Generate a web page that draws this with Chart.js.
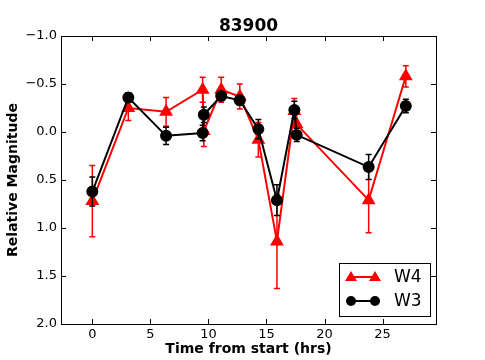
<!DOCTYPE html>
<html>
<head>
<meta charset="utf-8">
<script src="https://cdn.jsdelivr.net/npm/chart.js@4/dist/chart.umd.min.js"></script>
<style>
  html, body { margin: 0; padding: 0; background: #fff; }
  #wrap { width: 485px; height: 360px; }
</style>
</head>
<body>
<div id="wrap"><canvas id="c" width="485" height="360"></canvas></div>
<script>
const chartTitle = "83900";
const xLabel = "Time from start (hrs)";
const yLabel = "Relative Magnitude";

const xTicks = [0, 5, 10, 15, 20, 25];
const yTicks = [-1.0, -0.5, 0.0, 0.5, 1.0, 1.5, 2.0];

const w4Time = [0, 3.1, 6.35, 9.5, 9.6, 11.1, 12.7, 14.3, 15.9, 17.4, 17.6, 23.8, 27.0];
const w4Mag  = [0.72, -0.25, -0.21, -0.44, -0.01, -0.44, -0.37, 0.08, 1.14, -0.22, -0.08, 0.71, -0.58];
const w4Err  = [0.37, 0.13, 0.15, 0.13, 0.16, 0.13, 0.13, 0.18, 0.49, 0.13, 0.13, 0.34, 0.11];

const w3Time = [0, 3.1, 6.35, 9.5, 9.6, 11.1, 12.7, 14.3, 15.9, 17.4, 17.6, 23.8, 27.0];
const w3Mag  = [0.62, -0.36, 0.04, 0.01, -0.18, -0.375, -0.33, -0.03, 0.71, -0.23, 0.03, 0.365, -0.27];
const w3Err  = [0.15, 0.05, 0.09, 0.08, 0.08, 0.04, 0.05, 0.10, 0.16, 0.09, 0.07, 0.13, 0.07];

const FONT = "'DejaVu Sans', sans-serif";
const toPts = (xs, ys) => xs.map((x, i) => ({ x: x, y: ys[i] }));
const errs = [w4Err, w3Err];

// error bars drawn just under each dataset's markers
const errorBars = {
  id: "errorBars",
  beforeDatasetDraw(chart, args) {
    const ds = chart.data.datasets[args.index];
    const err = errs[args.index];
    const xs = chart.scales.x, ys = chart.scales.y;
    const ctx = chart.ctx;
    ctx.save();
    ctx.strokeStyle = ds.borderColor;
    ctx.lineWidth = 1.5;
    ds.data.forEach((p, i) => {
      const px = xs.getPixelForValue(p.x);
      const y1 = ys.getPixelForValue(p.y - err[i]);
      const y2 = ys.getPixelForValue(p.y + err[i]);
      ctx.beginPath();
      ctx.moveTo(px, y1); ctx.lineTo(px, y2);
      ctx.moveTo(px - 3, y1); ctx.lineTo(px + 3, y1);
      ctx.moveTo(px - 3, y2); ctx.lineTo(px + 3, y2);
      ctx.stroke();
    });
    ctx.restore();
  }
};

// frame, inward ticks, texts and legend in matplotlib style
const decor = {
  id: "decor",
  afterDraw(chart) {
    const ctx = chart.ctx;
    const a = chart.chartArea;
    const xs = chart.scales.x, ys = chart.scales.y;
    ctx.save();
    ctx.strokeStyle = "#000";
    ctx.lineWidth = 1;
    ctx.strokeRect(a.left + 0.5, a.top + 0.5, a.right - a.left, a.bottom - a.top);
    ctx.beginPath();
    xTicks.forEach(v => {
      const px = Math.round(xs.getPixelForValue(v)) + 0.5;
      ctx.moveTo(px, a.bottom); ctx.lineTo(px, a.bottom - 5);
      ctx.moveTo(px, a.top); ctx.lineTo(px, a.top + 5);
    });
    yTicks.forEach(v => {
      const py = Math.round(ys.getPixelForValue(v)) + 0.5;
      ctx.moveTo(a.left, py); ctx.lineTo(a.left + 5, py);
      ctx.moveTo(a.right, py); ctx.lineTo(a.right - 5, py);
    });
    ctx.stroke();

    ctx.fillStyle = "#000";
    ctx.font = "bold 17px " + FONT;
    ctx.textAlign = "center";
    ctx.textBaseline = "alphabetic";
    ctx.fillText(chartTitle, (a.left + a.right) / 2, 31);

    ctx.font = "bold 14px " + FONT;
    ctx.fillText(xLabel, (a.left + a.right) / 2, 353);
    ctx.save();
    ctx.translate(17, (a.top + a.bottom) / 2);
    ctx.rotate(-Math.PI / 2);
    ctx.fillText(yLabel, 0, 0);
    ctx.restore();

    // legend box
    const lx = 339, ly = 263, lw = 91, lh = 53;
    ctx.fillStyle = "#fff";
    ctx.fillRect(lx, ly, lw, lh);
    ctx.strokeStyle = "#000";
    ctx.strokeRect(lx + 0.5, ly + 0.5, lw, lh);
    const rows = [
      { label: "W4", color: "red", shape: "triangle", y: ly + 14 },
      { label: "W3", color: "#000", shape: "circle", y: ly + 38 }
    ];
    rows.forEach(r => {
      ctx.strokeStyle = r.color;
      ctx.fillStyle = r.color;
      ctx.lineWidth = 2;
      ctx.beginPath();
      ctx.moveTo(lx + 12, r.y); ctx.lineTo(lx + 36, r.y);
      ctx.stroke();
      [lx + 12, lx + 36].forEach(cx => {
        ctx.beginPath();
        if (r.shape === "triangle") {
          ctx.moveTo(cx, r.y - 6); ctx.lineTo(cx + 6, r.y + 4); ctx.lineTo(cx - 6, r.y + 4);
          ctx.closePath();
        } else {
          ctx.arc(cx, r.y, 5, 0, Math.PI * 2);
        }
        ctx.fill();
      });
      ctx.fillStyle = "#000";
      ctx.font = "17px " + FONT;
      ctx.textAlign = "left";
      ctx.textBaseline = "middle";
      ctx.fillText(r.label, lx + 55, r.y + 1);
    });
    ctx.restore();
  }
};

new Chart(document.getElementById("c"), {
  type: "scatter",
  plugins: [errorBars, decor],
  data: {
    datasets: [
      {
        label: "W4",
        data: toPts(w4Time, w4Mag),
        showLine: true,
        borderColor: "red",
        backgroundColor: "red",
        borderWidth: 2,
        pointStyle: "triangle",
        pointRadius: 6,
        pointHoverRadius: 6,
        order: 1
      },
      {
        label: "W3",
        data: toPts(w3Time, w3Mag),
        showLine: true,
        borderColor: "#000",
        backgroundColor: "#000",
        borderWidth: 2,
        pointStyle: "circle",
        pointRadius: 5,
        pointHoverRadius: 5,
        order: 0
      }
    ]
  },
  options: {
    responsive: false,
    animation: false,
    layout: { padding: { top: 36, right: 49, left: 0, bottom: 0 } },
    plugins: {
      legend: { display: false },
      tooltip: { enabled: false },
      title: { display: false }
    },
    scales: {
      x: {
        type: "linear",
        min: -2.7,
        max: 29.6,
        afterBuildTicks: s => { s.ticks = xTicks.map(v => ({ value: v })); },
        afterFit: s => { s.height = 36; },
        grid: { display: false, drawTicks: false },
        border: { display: false },
        ticks: { color: "#000", font: { family: FONT, size: 13 }, padding: 3, maxRotation: 0 }
      },
      y: {
        type: "linear",
        reverse: true,
        min: -1.0,
        max: 2.0,
        afterBuildTicks: s => { s.ticks = yTicks.map(v => ({ value: v })); },
        afterFit: s => { s.width = 61; },
        grid: { display: false, drawTicks: false },
        border: { display: false },
        ticks: {
          color: "#000",
          font: { family: FONT, size: 13 },
          padding: 4,
          callback: v => (v < 0 ? "\u2212" : "") + Math.abs(v).toFixed(1)
        }
      }
    }
  }
});
</script>
</body>
</html>
